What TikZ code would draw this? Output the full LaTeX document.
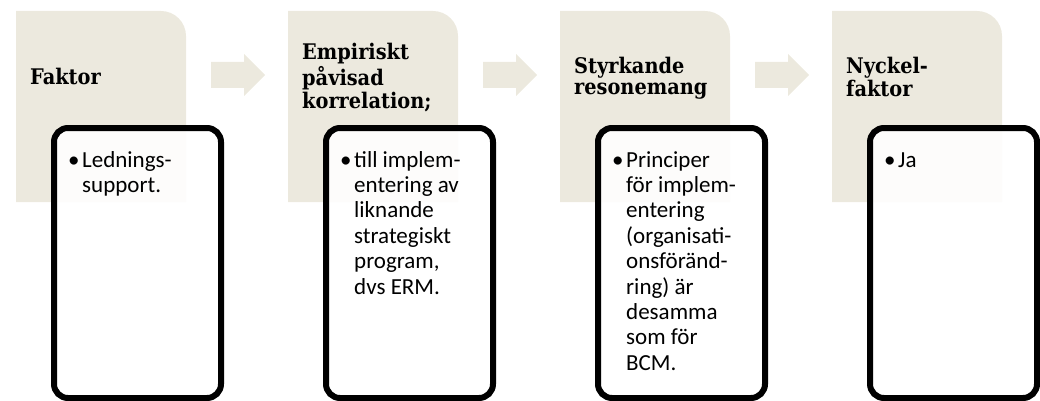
\documentclass[tikz,border=0pt]{standalone}
\usepackage{fontspec}
\setmainfont{Carlito}
\newfontfamily\headfont{DejaVu Serif Condensed}
\definecolor{beige}{RGB}{236,233,222}
\begin{document}
\begin{tikzpicture}[x=1pt,y=-1pt,
  heading/.style={anchor=base west,inner sep=0pt,font=\headfont\bfseries\fontsize{21.5}{21.7}\selectfont},
  cardbox/.style={draw=black,line width=6pt,rounded corners=14pt,fill=white,fill opacity=0.9,
    minimum width=167pt,minimum height=270pt,anchor=north west,inner sep=0pt},
  cardtext/.style={anchor=base west,inner sep=0pt,font=\fontsize{23}{25.4}\selectfont}]
\useasboundingbox (0,0) rectangle (1040,401);
\newcommand\bul{\makebox[14pt][l]{•}}
% beige step panels with one rounded corner
\foreach \i in {0,1,2,3}{
  \coordinate (p\i) at (16+272*\i,11);
  \fill[beige] (p\i) ++(0,191) -- ++(0,-191) -- ++(145,0)
    arc[start angle=-90,end angle=0,radius=25] -- ++(0,166) -- cycle;
}
% block arrows between the panels
\foreach \i in {0,1,2}{
  \coordinate (a\i) at (211+272*\i,75);
  \fill[beige] (a\i) ++(0,-13) -- ++(33,0) -- ++(0,-8) -- ++(21,21) -- ++(-21,21)
    -- ++(0,-8) -- ++(-33,0) -- cycle;
}
% headings
\node[heading] (h0) at (30,85) {Faktor};
\node[heading] (h1) at (302,60) {\begin{tabular}[t]{@{}l@{}}Empiriskt\\påvisad\\korrelation;\end{tabular}};
\node[heading] (h2) at (574,73.3) {\begin{tabular}[t]{@{}l@{}}Styrkande\\resonemang\end{tabular}};
\node[heading] (h3) at (846,73.3) {\begin{tabular}[t]{@{}l@{}}Nyckel-\\faktor\end{tabular}};
% detail cards
\foreach \i in {0,1,2,3}{
  \node[cardbox] (b\i) at (51+272*\i,125) {};
}
\node[cardtext] (t0) at (68,167) {\bul\begin{tabular}[t]{@{}l@{}}Lednings-\\support.\end{tabular}};
\node[cardtext] (t1) at (340,167) {\bul\begin{tabular}[t]{@{}l@{}}till implem-\\entering av\\liknande\\strategiskt\\program,\\dvs ERM.\end{tabular}};
\node[cardtext] (t2) at (612,167) {\bul\begin{tabular}[t]{@{}l@{}}Principer\\för implem-\\entering\\(organisati-\\onsföränd-\\ring) är\\desamma\\som för\\BCM.\end{tabular}};
\node[cardtext] (t3) at (884,167) {\bul Ja};
\end{tikzpicture}
\end{document}
